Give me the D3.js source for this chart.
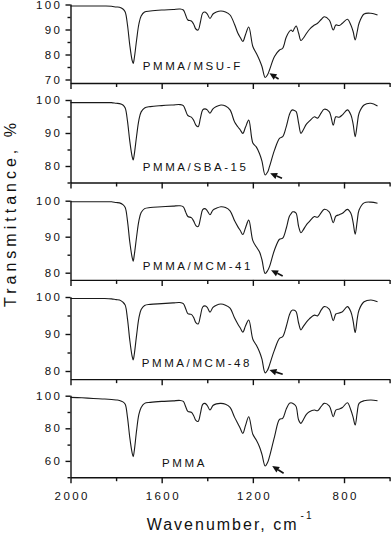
<!DOCTYPE html>
<html>
<head>
<meta charset="utf-8">
<title>FTIR spectra</title>
<style>
  body { margin: 0; background: #fff; }
  svg { display: block; font-family: "Liberation Sans", Arial, sans-serif; }
  .axis path, .axis line { stroke: #111; stroke-width: 1.4; }
  .spec { fill: none; stroke: #1a1a1a; stroke-width: 1.1; }
</style>
</head>
<body>
<script src="https://cdn.jsdelivr.net/npm/d3@7"></script>
<script>
// wavenumbers, cm-1 (shared by all spectra)
var wavenumber = [2000,1950,1900,1850,1820,1800,1785,1770,1760,1750,
  1740,1730,1725,1720,1710,1700,1690,1675,1650,1600,
  1550,1520,1505,1495,1485,1470,1460,1450,1440,1430,
  1420,1410,1400,1388,1375,1360,1340,1320,1300,1280,
  1266,1255,1244,1232,1218,1200,1185,1171,1160,1146,
  1135,1127,1105,1083,1069,1054,1040,1032,1025,1018,
  1010,999,989,979,965,952,930,916,900,887,
  865,847,836,821,807,785,770,760,751,742,
  734,712,682,653];

// transmittance, %
var tMSUF = [99.4,99.4,99.4,99.4,99.3,99.0,98.9,98.2,97.0,91.8,
  83.8,77.8,76.4,78.6,85.8,92.2,95.4,97.0,97.4,97.8,
  98.0,98.2,97.8,95.8,93.8,93.4,92.2,90.2,89.8,93.0,
  96.6,97.0,96.2,94.4,96.2,97.0,97.4,97.0,95.8,92.0,
  88.6,86.8,85.2,88.0,91.0,83.2,80.5,77.8,75.2,70.8,
  72.0,73.8,79.2,81.8,82.5,86.8,89.2,89.8,89.2,90.4,
  91.4,88.5,85.6,86.5,88.4,90.0,91.8,92.5,94.0,95.1,
  93.8,89.8,91.8,91.6,92.5,94.1,91.8,89.2,85.8,89.2,
  92.5,96.2,96.5,95.8];
var tSBA15 = [99.2,99.2,99.2,99.2,99.2,99.0,98.9,98.5,97.6,93.6,
  87.6,83.0,81.8,83.6,89.1,93.9,96.4,97.6,98.0,98.3,
  98.5,98.6,98.3,96.8,95.3,94.8,93.9,92.4,91.9,94.5,
  97.0,97.3,97.0,96.0,97.3,98.0,98.5,98.2,97.0,93.3,
  91.9,90.9,89.9,91.8,93.9,87.0,85.8,83.8,81.5,77.3,
  78.2,79.8,84.8,88.4,88.9,91.8,95.5,96.7,97.0,96.8,
  96.5,92.9,89.9,90.9,92.7,93.6,94.9,94.5,96.1,97.2,
  96.5,92.4,94.9,94.8,95.5,97.0,95.5,92.7,88.9,92.7,
  96.0,98.5,99.0,98.2];
var tMCM41 = [99.7,99.7,99.7,99.7,99.7,99.5,99.4,98.9,98.1,94.4,
  88.6,84.4,83.2,85.0,90.0,94.4,96.7,97.8,98.1,98.3,
  98.5,98.6,98.3,96.9,95.6,95.3,94.4,93.1,92.8,95.0,
  97.5,97.8,97.2,96.1,97.4,97.9,98.3,98.1,97.2,94.4,
  92.8,91.7,90.6,92.5,94.6,88.9,87.2,85.8,83.6,79.8,
  80.6,81.7,86.3,89.3,89.6,92.2,95.6,96.4,96.9,96.9,
  96.5,92.8,91.1,91.9,93.3,94.2,95.6,95.4,96.7,97.6,
  96.9,93.9,95.7,96.1,96.5,97.6,96.5,93.9,90.7,94.4,
  97.4,99.4,99.6,99.3];
var tMCM48 = [99.6,99.6,99.6,99.6,99.5,99.3,99.2,98.6,97.8,94.1,
  88.4,84.1,83.0,84.6,89.7,94.3,96.6,97.7,98.0,98.2,
  98.4,98.5,98.2,96.9,95.5,95.3,94.5,93.1,92.7,94.9,
  97.3,97.6,97.2,95.9,97.2,97.8,98.1,97.8,97.0,94.3,
  92.7,91.6,90.5,92.2,93.8,88.6,87.0,85.2,83.2,79.5,
  80.3,81.6,85.7,88.8,89.3,91.9,95.1,96.2,96.5,96.4,
  96.0,92.9,91.1,92.0,93.2,94.1,95.1,94.9,96.5,97.4,
  96.7,93.6,95.4,95.7,96.0,97.4,96.0,93.5,90.4,94.1,
  96.5,98.7,99.2,98.7];
var tPMMA = [99.0,98.7,98.3,98.0,97.7,97.4,97.1,96.2,94.7,86.7,
  74.4,65.2,62.6,66.4,78.7,88.5,92.8,95.3,95.9,96.5,
  96.8,97.1,96.5,93.4,90.4,89.8,87.9,84.8,84.2,89.1,
  94.7,95.3,94.0,91.2,94.0,95.0,95.3,94.7,92.8,86.7,
  83.0,79.9,76.9,81.8,87.1,76.3,72.8,68.7,64.0,56.9,
  59.1,62.6,74.8,85.5,86.1,91.6,95.3,95.7,95.3,94.7,
  93.3,85.1,83.0,85.1,88.5,90.1,91.2,90.8,93.4,95.3,
  93.7,87.1,91.2,91.9,92.8,95.7,91.2,86.7,82.0,89.8,
  95.3,96.9,97.4,96.9];

var sampleNames = ["PMMA/MSU-F", "PMMA/SBA-15", "PMMA/MCM-41", "PMMA/MCM-48", "PMMA"];
var spectra = [tMSUF, tSBA15, tMCM41, tMCM48, tPMMA];

var yMajorTicks = [[70, 80, 90, 100], [80, 90, 100], [80, 90, 100], [80, 90, 100], [60, 80, 100]];
var yMinorTicks = [[75, 85, 95], [75, 85, 95], [85, 95], [85, 95], [50, 70, 90]];
var xMajorTicks = [2000, 1600, 1200, 800];
var xMinorTicks = [1800, 1400, 1000, 600];

// arrows marking the 1150 band: tip and tail (wavenumber, transmittance)
var arrowTipW = [1127, 1124, 1120, 1127, 1115];
var arrowTipT = [72.5, 77.8, 80.7, 80.3, 56.9];
var arrowTailW = [1087, 1072, 1069, 1069, 1065];
var arrowTailT = [70.2, 76.3, 79.1, 79.1, 52.4];

// panel layout: pixel of T=100, px per %, axis bottom/top values, label position
var panels = [
  { y100: 4.5,   s: 2.5,  lo: 68.6, hi: 100.2, lx: 142.7, ly: 70 },
  { y100: 100,   s: 3.3,  lo: 75,   hi: 100.2, lx: 142.7, ly: 170.7 },
  { y100: 200.7, s: 3.6,  lo: 78,   hi: 100.1, lx: 142.7, ly: 270 },
  { y100: 297,   s: 3.7,  lo: 77.8, hi: 100.1, lx: 141.7, ly: 366.7 },
  { y100: 395.7, s: 1.63, lo: 50,   hi: 100.2, lx: 162,   ly: 466.7 }
];

var width = 392, height = 534;
var tickFont = 11.5, tickLs = 2.4;

var svg = d3.select("body").append("svg")
  .attr("width", width)
  .attr("height", height);

var x = d3.scaleLinear().domain([2000, 600]).range([70.5, 389.6]);

panels.forEach(function (p, i) {
  var y = d3.scaleLinear()
    .domain([p.lo, p.hi])
    .range([p.y100 + (100 - p.lo) * p.s, p.y100 - (p.hi - 100) * p.s]);
  var g = svg.append("g");
  var yBottom = y(p.lo);
  var last = i === panels.length - 1;

  // spectrum
  var data = wavenumber.map(function (w, k) { return { w: w, t: spectra[i][k] }; });
  var line = d3.line()
    .x(function (d) { return x(d.w); })
    .y(function (d) { return y(d.t); })
    .curve(d3.curveCatmullRom.alpha(0.5));
  g.append("path").datum(data).attr("class", "spec").attr("d", line);

  // left axis
  var yAx = g.append("g").attr("class", "axis")
    .attr("transform", "translate(" + x(2000) + ",0)")
    .call(d3.axisLeft(y).tickValues(yMajorTicks[i]).tickSize(5).tickSizeOuter(0)
      .tickPadding(5.5).tickFormat(d3.format("d")));
  yAx.selectAll("text")
    .attr("fill", "#111")
    .style("font-size", tickFont + "px")
    .style("letter-spacing", tickLs + "px")
    .attr("dx", tickLs);
  g.append("g").attr("class", "axis")
    .attr("transform", "translate(" + x(2000) + ",0)")
    .call(d3.axisLeft(y).tickValues(yMinorTicks[i]).tickSize(3).tickSizeOuter(0).tickFormat(""))
    .select(".domain").remove();

  // bottom axis
  var xAx = g.append("g").attr("class", "axis")
    .attr("transform", "translate(0," + yBottom + ")")
    .call(d3.axisBottom(x).tickValues(xMajorTicks).tickSize(6).tickSizeOuter(0)
      .tickPadding(8.6).tickFormat(last ? d3.format("d") : ""));
  xAx.selectAll("text")
    .attr("fill", "#111")
    .style("font-size", tickFont + "px")
    .style("letter-spacing", tickLs + "px")
    .attr("dx", tickLs / 2);
  g.append("g").attr("class", "axis")
    .attr("transform", "translate(0," + yBottom + ")")
    .call(d3.axisBottom(x).tickValues(xMinorTicks).tickSize(4).tickSizeOuter(0).tickFormat(""))
    .select(".domain").remove();

  // sample name
  g.append("text")
    .attr("x", p.lx)
    .attr("y", p.ly)
    .attr("fill", "#111")
    .style("font-size", "11.5px")
    .style("letter-spacing", "2.6px")
    .text(sampleNames[i]);

  // arrow
  var x1 = x(arrowTailW[i]), y1 = y(arrowTailT[i]);
  var x2 = x(arrowTipW[i]), y2 = y(arrowTipT[i]);
  var ang = Math.atan2(y2 - y1, x2 - x1);
  var hl = 7, hw = 3.2;
  var bx = x2 - hl * Math.cos(ang), by = y2 - hl * Math.sin(ang);
  g.append("line")
    .attr("x1", x1).attr("y1", y1).attr("x2", bx).attr("y2", by)
    .attr("stroke", "#111").attr("stroke-width", 1.6);
  g.append("path")
    .attr("d", "M" + x2 + "," + y2 +
      "L" + (bx + hw * Math.sin(ang)) + "," + (by - hw * Math.cos(ang)) +
      "L" + (bx - hw * Math.sin(ang)) + "," + (by + hw * Math.cos(ang)) + "Z")
    .attr("fill", "#111");
});

// axis titles
svg.append("text")
  .attr("x", 146.7)
  .attr("y", 530)
  .attr("fill", "#111")
  .style("font-size", "16px")
  .style("letter-spacing", "2px")
  .text("Wavenumber, cm")
  .append("tspan")
  .attr("dx", 2)
  .attr("dy", -11)
  .style("font-size", "10px")
  .text("-1");

svg.append("text")
  .attr("transform", "translate(16,213) rotate(-90)")
  .attr("text-anchor", "middle")
  .attr("fill", "#111")
  .style("font-size", "16px")
  .style("letter-spacing", "4px")
  .text("Transmittance, %");
</script>
</body>
</html>
